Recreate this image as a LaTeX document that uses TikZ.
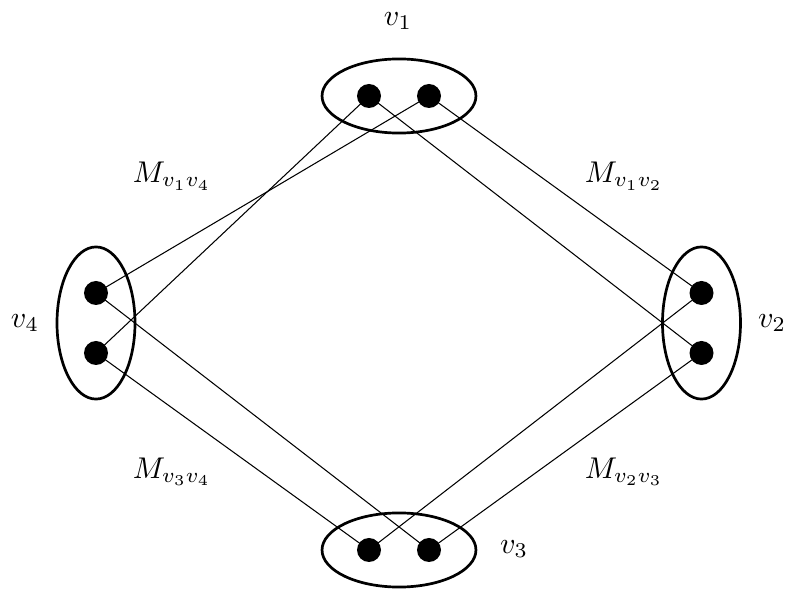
\documentclass[tikz,border=0pt]{standalone}
\usetikzlibrary{shapes.geometric}
\begin{document}
\begin{tikzpicture}[x=0.3333pt,y=-0.3333pt,
  part/.style={draw, line width=0.9pt, ellipse, inner sep=0pt},
  hpart/.style={part, minimum width=51.3pt, minimum height=24.7pt},
  vpart/.style={part, minimum width=26pt, minimum height=50.7pt},
  vtx/.style={circle, fill=black, inner sep=0pt, minimum size=8pt},
  lab/.style={inner sep=0pt},
  edge/.style={line width=0.35pt}]
\useasboundingbox (0,0) rectangle (788,590);

% the four parts
\node[hpart] (P1) at (399,96)  {};
\node[vpart] (P2) at (701.5,323) {};
\node[hpart] (P3) at (399,550) {};
\node[vpart] (P4) at (96,323)  {};

% vertices inside the parts
\node[vtx] (a1) at (369,96)  {};
\node[vtx] (a2) at (429,96)  {};
\node[vtx] (b1) at (701.5,293) {};
\node[vtx] (b2) at (701.5,353) {};
\node[vtx] (c1) at (369,550) {};
\node[vtx] (c2) at (429,550) {};
\node[vtx] (d1) at (96,293)  {};
\node[vtx] (d2) at (96,353)  {};

% matchings between neighbouring parts
\draw[edge] (a1.center) -- (d2.center);
\draw[edge] (a2.center) -- (d1.center);
\draw[edge] (a1.center) -- (b2.center);
\draw[edge] (a2.center) -- (b1.center);
\draw[edge] (c1.center) -- (b1.center);
\draw[edge] (c2.center) -- (b2.center);
\draw[edge] (c1.center) -- (d2.center);
\draw[edge] (c2.center) -- (d1.center);

% labels
\node[lab] (l1) at (398,21)  {$v_1$};
\node[lab] (l2) at (772,323) {$v_2$};
\node[lab] (l3) at (514,549) {$v_3$};
\node[lab] (l4) at (25,323)  {$v_4$};
\node[lab] (m14) at (172,176) {$M_{v_1v_4}$};
\node[lab] (m12) at (624,176) {$M_{v_1v_2}$};
\node[lab] (m34) at (172,472) {$M_{v_3v_4}$};
\node[lab] (m23) at (624,472) {$M_{v_2v_3}$};
\end{tikzpicture}
\end{document}
